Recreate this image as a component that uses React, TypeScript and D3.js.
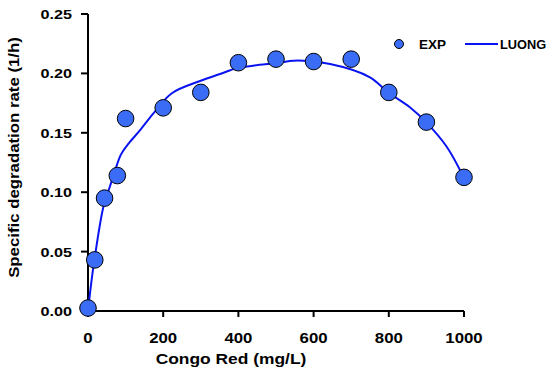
import React from "react";
import * as d3 from "d3";

const expX = [0, 18, 44, 78, 100, 200, 300, 400, 500, 600, 700, 800, 900, 1000];
const expY = [0.0025, 0.043, 0.095, 0.114, 0.162, 0.171, 0.184, 0.209, 0.212, 0.210, 0.212, 0.184, 0.159, 0.1125];

const fitX = [0, 8, 17, 41, 58, 85, 92, 112, 138, 174, 223, 298, 351, 395, 439, 511, 546, 644, 750, 797, 856, 899, 954, 1000];
const fitY = [0, 0.022, 0.043, 0.0878, 0.1046, 0.13, 0.134, 0.1425, 0.152, 0.1664, 0.1833, 0.1936, 0.1995, 0.2043, 0.2065, 0.209, 0.2107, 0.2079, 0.1967, 0.1843, 0.1715, 0.159, 0.1383, 0.112];

const xTicks = [0, 200, 400, 600, 800, 1000];
const yTicks = [0, 0.05, 0.1, 0.15, 0.2, 0.25];

const FONT = "'Liberation Sans', Arial, sans-serif";

export default function App() {
  const x = d3.scaleLinear().domain([0, 1000]).range([88, 464]);
  const y = d3.scaleLinear().domain([0, 0.25]).range([311, 14]);
  const line = d3
    .line<number>()
    .x((_, i) => x(fitX[i]))
    .y((d) => y(d))
    .curve(d3.curveCatmullRom.alpha(0.5));
  const sx = 1.2;
  return (
    <svg
      width={550}
      height={374}
      style={{ position: "absolute", left: 0, top: 0, background: "#fff" }}
    >
      {/* axes */}
      <line x1={88} y1={y(0.25)} x2={88} y2={312} stroke="#000" strokeWidth={2} />
      <line x1={87} y1={311} x2={x(1000)} y2={311} stroke="#000" strokeWidth={2} />
      {yTicks.map((t) => (
        <g key={"y" + t}>
          <line x1={81} x2={88} y1={y(t)} y2={y(t)} stroke="#000" strokeWidth={2} />
          <text
            transform={`translate(72,${y(t) + 5}) scale(${sx},1)`}
            textAnchor="end"
            fontFamily={FONT}
            fontWeight="bold"
            fontSize={13.5}
          >
            {t.toFixed(2)}
          </text>
        </g>
      ))}
      {xTicks.map((t) => (
        <g key={"x" + t}>
          <line x1={x(t)} x2={x(t)} y1={311} y2={317} stroke="#000" strokeWidth={2} />
          <text
            transform={`translate(${x(t)},343) scale(${sx},1)`}
            textAnchor="middle"
            fontFamily={FONT}
            fontWeight="bold"
            fontSize={14}
          >
            {t}
          </text>
        </g>
      ))}
      <text
        transform={`translate(231,364) scale(${sx},1)`}
        textAnchor="middle"
        fontFamily={FONT}
        fontWeight="bold"
        fontSize={14.5}
      >
        Congo Red (mg/L)
      </text>
      <text
        transform={`translate(19,157.5) rotate(-90) scale(${sx},1)`}
        textAnchor="middle"
        fontFamily={FONT}
        fontWeight="bold"
        fontSize={14}
      >
        Specific degradation rate (1/h)
      </text>

      {/* model curve */}
      <path d={line(fitY) || ""} fill="none" stroke="#0a14f0" strokeWidth={2} />

      {/* experimental points */}
      {expY.map((v, i) => (
        <circle
          key={"p" + i}
          cx={x(expX[i])}
          cy={y(v)}
          r={8.3}
          fill="#3a6cf6"
          stroke="#000"
          strokeWidth={1}
        />
      ))}

      {/* legend */}
      <circle cx={399} cy={44} r={4.5} fill="#3a6cf6" stroke="#000" strokeWidth={1} />
      <text x={419} y={49} fontFamily={FONT} fontWeight="bold" fontSize={13.5}>
        EXP
      </text>
      <line x1={465} x2={498} y1={44} y2={44} stroke="#0a14f0" strokeWidth={2} />
      <text x={500} y={49} fontFamily={FONT} fontWeight="bold" fontSize={12.8}>
        LUONG
      </text>
    </svg>
  );
}
